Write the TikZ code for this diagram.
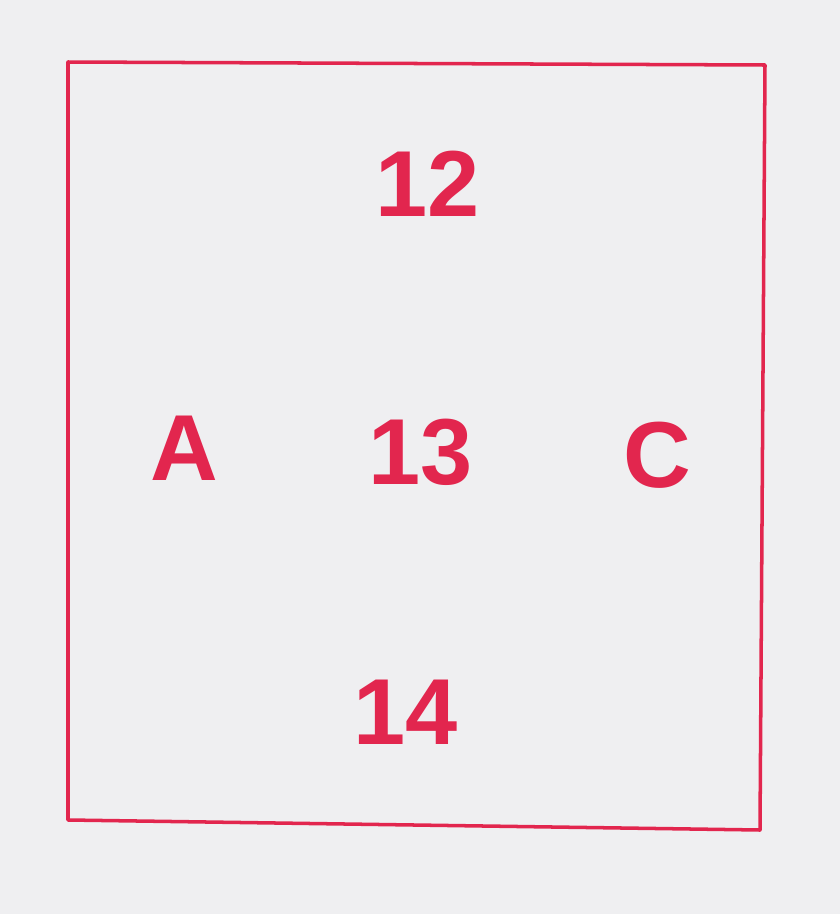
\documentclass[tikz,border=0pt]{standalone}
\usepackage{fontspec}
\setmainfont{Liberation Sans}
\definecolor{paper}{HTML}{EFEFF1}
\definecolor{ink}{HTML}{E2264E}
\tikzset{
  frameline/.style={draw=ink,line width=3pt,line cap=round,line join=round},
  tag/.style={text=ink,font=\fontsize{80}{86}\selectfont\bfseries,inner sep=0pt}
}
\begin{document}
\begin{tikzpicture}[x=0.03cm,y=-0.03cm]
  \fill[paper] (0,0) rectangle (840,914);
  \useasboundingbox (0,0) rectangle (840,914);
  % corners of the frame
  \coordinate (tl) at (68,62);
  \coordinate (tr) at (765,65);
  \coordinate (br) at (760,830);
  \coordinate (bl) at (68,820);
  \draw[frameline] (tl) -- (tr) -- (br) -- (bl) -- cycle;
  % labels
  \node[tag] (top) at (428,184) {12};
  \node[tag] (left) at (184,448) {A};
  \node[tag] (mid) at (421,452) {13};
  \node[tag] (right) at (657,455) {C};
  \node[tag] (bottom) at (406,712) {14};
\end{tikzpicture}
\end{document}
